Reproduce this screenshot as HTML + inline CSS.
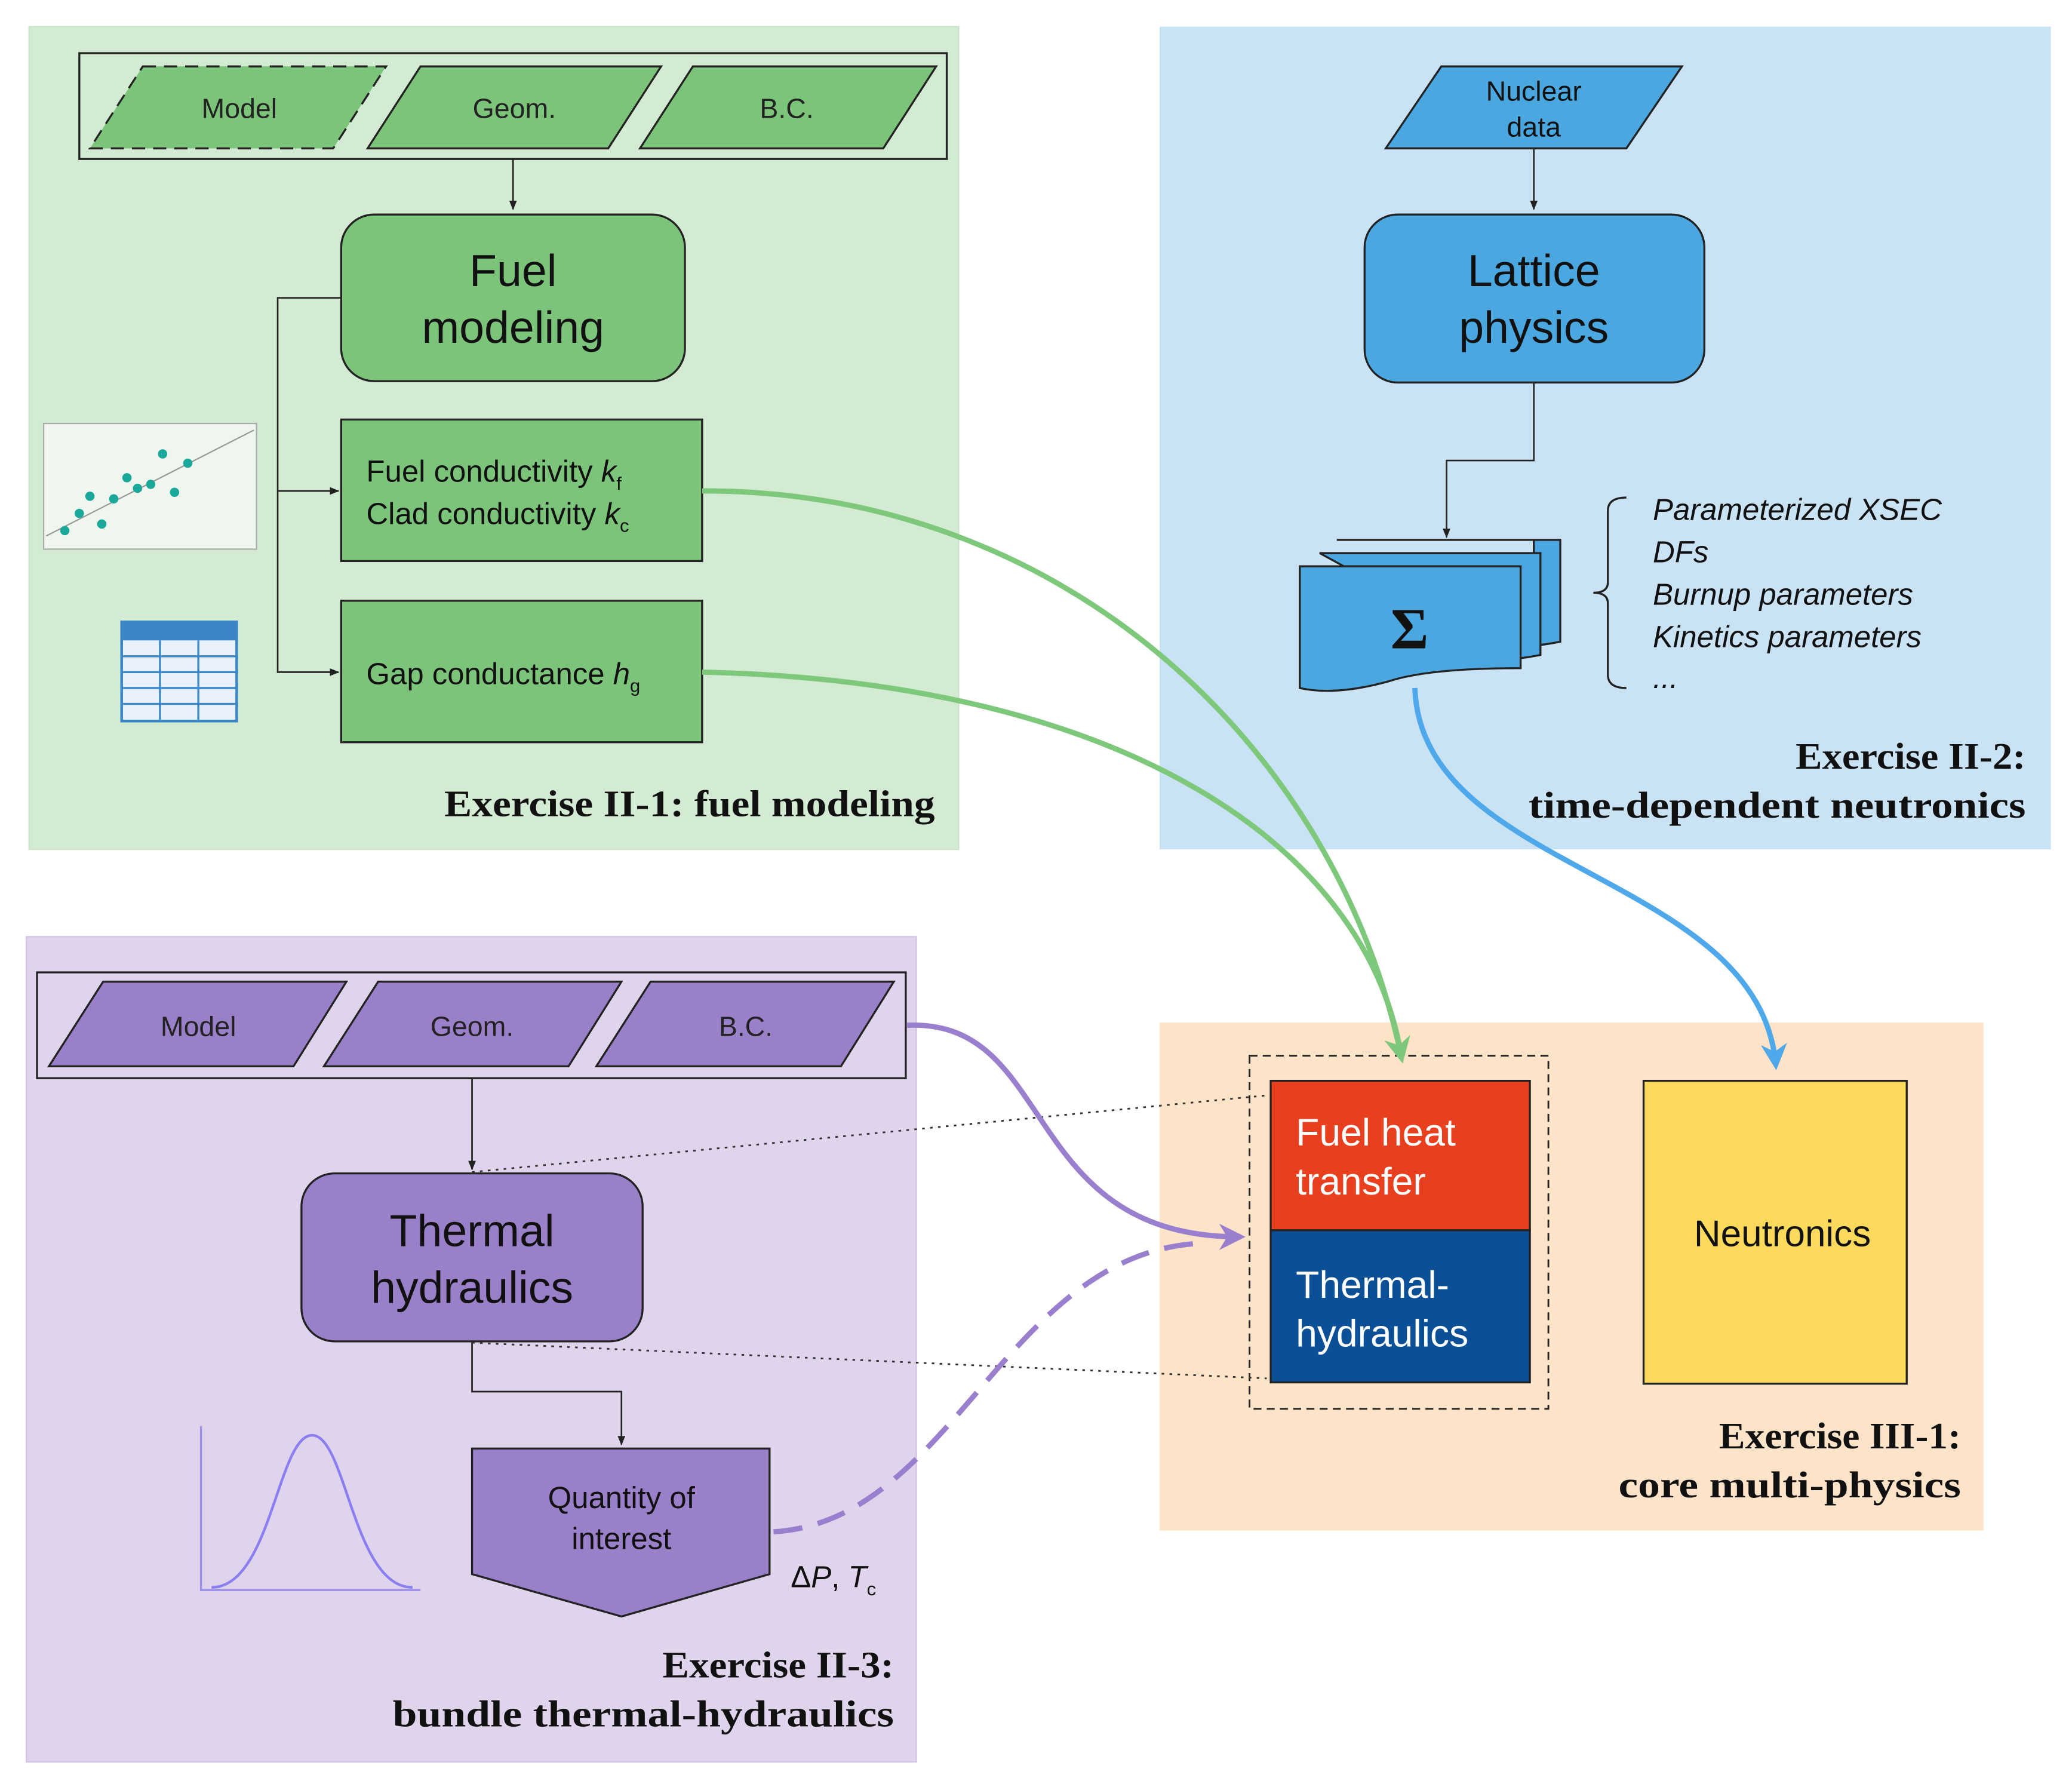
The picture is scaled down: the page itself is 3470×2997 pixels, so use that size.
<!DOCTYPE html>
<html><head><meta charset="utf-8"><style>html,body{margin:0;padding:0;background:#fff}svg{display:block}</style></head>
<body>
<svg width="3470" height="2997" viewBox="0 0 1567 1353" xmlns="http://www.w3.org/2000/svg" font-family="Liberation Sans, sans-serif">
<defs>
<marker id="ab" viewBox="0 0 10 10" refX="9" refY="5" markerWidth="6" markerHeight="6" orient="auto"><path d="M0,1 L10,5 L0,9 z" fill="#222"/></marker>
<marker id="ag" viewBox="0 0 10 10" refX="8" refY="5" markerWidth="5" markerHeight="5" orient="auto" markerUnits="strokeWidth"><path d="M0,0 L10,5 L0,10 L3,5 z" fill="#7dc87a"/></marker>
<marker id="abl" viewBox="0 0 10 10" refX="8" refY="5" markerWidth="5" markerHeight="5" orient="auto" markerUnits="strokeWidth"><path d="M0,0 L10,5 L0,10 L3,5 z" fill="#4ea8ea"/></marker>
<marker id="ap" viewBox="0 0 10 10" refX="8" refY="5" markerWidth="5" markerHeight="5" orient="auto" markerUnits="strokeWidth"><path d="M0,0 L10,5 L0,10 L3,5 z" fill="#9a7fcf"/></marker>
</defs>
<rect x="22" y="20" width="703" height="622" fill="#d3ead3" stroke="#c8e3c8"/>
<rect x="877" y="20" width="674" height="622" fill="#c9e2f4"/>
<rect x="20" y="708" width="673" height="624" fill="#e0d4ec" stroke="#d4c4e4"/>
<rect x="877" y="773" width="623" height="384" fill="#fde3c8"/>

<rect x="60" y="40" width="656" height="80" fill="none" stroke="#222" stroke-width="1.5"/>
<polygon points="108,50 292,50 252,112 68,112" fill="#7dc47b" stroke="#222" stroke-width="1.5" stroke-dasharray="10,6"/>
<polygon points="318,50 500,50 460,112 278,112" fill="#7dc47b" stroke="#222" stroke-width="1.5"/>
<polygon points="524,50 708,50 668,112 484,112" fill="#7dc47b" stroke="#222" stroke-width="1.5"/>
<g font-size="21" fill="#222" text-anchor="middle"><text x="181" y="89">Model</text><text x="389" y="89">Geom.</text><text x="595" y="89">B.C.</text></g>
<line x1="388" y1="120" x2="388" y2="158" stroke="#222" stroke-width="1.2" marker-end="url(#ab)"/>
<rect x="258" y="162" width="260" height="126" rx="25" fill="#7dc47b" stroke="#222" stroke-width="1.5"/>
<g font-size="34" fill="#111" text-anchor="middle"><text x="388" y="216">Fuel</text><text x="388" y="259">modeling</text></g>
<polyline points="258,225 210,225 210,508 256,508" fill="none" stroke="#222" stroke-width="1.2" marker-end="url(#ab)"/>
<line x1="210" y1="371" x2="256" y2="371" stroke="#222" stroke-width="1.2" marker-end="url(#ab)"/>
<rect x="258" y="317" width="273" height="107" fill="#7dc47b" stroke="#222" stroke-width="1.5"/>
<rect x="258" y="454" width="273" height="107" fill="#7dc47b" stroke="#222" stroke-width="1.5"/>
<g font-size="23" fill="#111">
<text x="277" y="364">Fuel conductivity <tspan font-style="italic">k</tspan><tspan font-size="14" dy="6">f</tspan></text>
<text x="277" y="396">Clad conductivity <tspan font-style="italic">k</tspan><tspan font-size="14" dy="6">c</tspan></text>
<text x="277" y="517">Gap conductance <tspan font-style="italic">h</tspan><tspan font-size="14" dy="6">g</tspan></text>
</g>
<rect x="33" y="320" width="161" height="95" fill="#eef6ee" stroke="#aaa" stroke-width="1"/>
<line x1="35" y1="405" x2="192" y2="325" stroke="#999" stroke-width="1"/>
<g fill="#1aa89a"><circle cx="49" cy="401" r="3.5"/><circle cx="60" cy="388" r="3.5"/><circle cx="68" cy="375" r="3.5"/><circle cx="77" cy="396" r="3.5"/><circle cx="86" cy="377" r="3.5"/><circle cx="96" cy="361" r="3.5"/><circle cx="104" cy="369" r="3.5"/><circle cx="114" cy="366" r="3.5"/><circle cx="123" cy="343" r="3.5"/><circle cx="132" cy="372" r="3.5"/><circle cx="142" cy="350" r="3.5"/></g>
<rect x="92" y="470" width="87" height="75" fill="#e8f1fa" stroke="#3a86c6" stroke-width="2"/>
<rect x="92" y="470" width="87" height="14" fill="#3a86c6"/>
<g stroke="#3a86c6" stroke-width="1.5"><line x1="92" y1="496" x2="179" y2="496"/><line x1="92" y1="508" x2="179" y2="508"/><line x1="92" y1="520" x2="179" y2="520"/><line x1="92" y1="532" x2="179" y2="532"/><line x1="121" y1="484" x2="121" y2="545"/><line x1="150" y1="484" x2="150" y2="545"/></g>
<text x="336" y="617" font-family="Liberation Serif, serif" font-weight="bold" font-size="28" fill="#111" textLength="371" lengthAdjust="spacingAndGlyphs">Exercise II-1: fuel modeling</text>

<polygon points="1090,50 1272,50 1230,112 1048,112" fill="#4aa7e0" stroke="#222" stroke-width="1.5"/>
<g font-size="21" fill="#111" text-anchor="middle"><text x="1160" y="76">Nuclear</text><text x="1160" y="103">data</text></g>
<line x1="1160" y1="112" x2="1160" y2="158" stroke="#222" stroke-width="1.2" marker-end="url(#ab)"/>
<rect x="1032" y="162" width="257" height="127" rx="25" fill="#4aa7e0" stroke="#222" stroke-width="1.5"/>
<g font-size="34" fill="#111" text-anchor="middle"><text x="1160" y="216">Lattice</text><text x="1160" y="259">physics</text></g>
<polyline points="1160,289 1160,348 1094,348 1094,406" fill="none" stroke="#222" stroke-width="1.2" marker-end="url(#ab)"/>
<g stroke="#222" stroke-width="1.5" fill="#4aa7e0">
<path d="M1011,408 H1180 V485 Q1170,487 1160,488 V408 Z"/>
<path d="M998,418 H1165 V495 Q1155,497 1145,498 Z"/>
<path d="M983,428 H1150 V505 Q1080,505 1050,515 Q1010,526 983,520 Z"/>
</g>
<text x="1066" y="490" font-family="Liberation Serif, serif" font-weight="bold" font-size="44" text-anchor="middle" fill="#111">Σ</text>
<path d="M1230,376 Q1216,376 1216,386 V440 Q1216,448 1205,448 Q1216,448 1216,456 V510 Q1216,520 1230,520" fill="none" stroke="#222" stroke-width="1.5"/>
<g font-size="23" font-style="italic" fill="#111"><text x="1250" y="393">Parameterized XSEC</text><text x="1250" y="425">DFs</text><text x="1250" y="457">Burnup parameters</text><text x="1250" y="489">Kinetics parameters</text><text x="1250" y="520">...</text></g>
<g font-family="Liberation Serif, serif" font-weight="bold" font-size="28" fill="#111"><text x="1358" y="581" textLength="174" lengthAdjust="spacingAndGlyphs">Exercise II-2:</text><text x="1156" y="618" textLength="376" lengthAdjust="spacingAndGlyphs">time-dependent neutronics</text></g>

<rect x="28" y="735" width="657" height="80" fill="none" stroke="#222" stroke-width="1.5"/>
<polygon points="78,742 262,742 222,806 37,806" fill="#9a7fc9" stroke="#222" stroke-width="1.5"/>
<polygon points="286,742 470,742 430,806 245,806" fill="#9a7fc9" stroke="#222" stroke-width="1.5"/>
<polygon points="492,742 676,742 636,806 451,806" fill="#9a7fc9" stroke="#222" stroke-width="1.5"/>
<g font-size="21" fill="#222" text-anchor="middle"><text x="150" y="783">Model</text><text x="357" y="783">Geom.</text><text x="564" y="783">B.C.</text></g>
<line x1="357" y1="815" x2="357" y2="884" stroke="#222" stroke-width="1.2" marker-end="url(#ab)"/>
<rect x="228" y="887" width="258" height="127" rx="25" fill="#9a7fc9" stroke="#222" stroke-width="1.5"/>
<g font-size="34" fill="#111" text-anchor="middle"><text x="357" y="942">Thermal</text><text x="357" y="985">hydraulics</text></g>
<polyline points="357,1014 357,1052 470,1052 470,1092" fill="none" stroke="#222" stroke-width="1.2" marker-end="url(#ab)"/>
<polygon points="357,1095 582,1095 582,1190 470,1222 357,1190" fill="#9a7fc9" stroke="#222" stroke-width="1.5"/>
<g font-size="23" fill="#111" text-anchor="middle"><text x="470" y="1140">Quantity of</text><text x="470" y="1171">interest</text></g>
<text x="598" y="1200" font-size="23" fill="#111">Δ<tspan font-style="italic">P</tspan>, <tspan font-style="italic">T</tspan><tspan font-size="14" dy="6">c</tspan></text>
<polyline points="152,1078 152,1202 318,1202" fill="none" stroke="#9a8ee8" stroke-width="1.5"/>
<path d="M160,1200 C205,1200 210,1085 236,1085 C262,1085 267,1200 312,1200" fill="none" stroke="#8a7ff0" stroke-width="2"/>
<g font-family="Liberation Serif, serif" font-weight="bold" font-size="28" fill="#111"><text x="501" y="1268" textLength="175" lengthAdjust="spacingAndGlyphs">Exercise II-3:</text><text x="297" y="1305" textLength="379" lengthAdjust="spacingAndGlyphs">bundle thermal-hydraulics</text></g>

<rect x="945" y="798" width="226" height="267" fill="none" stroke="#222" stroke-width="1.3" stroke-dasharray="6,4"/>
<rect x="961" y="817" width="196" height="113" fill="#e8401f" stroke="#222" stroke-width="1.5"/>
<rect x="961" y="930" width="196" height="115" fill="#0b4f96" stroke="#222" stroke-width="1.5"/>
<g font-size="29" fill="#fff"><text x="980" y="866">Fuel heat</text><text x="980" y="903">transfer</text><text x="980" y="981">Thermal-</text><text x="980" y="1018">hydraulics</text></g>
<rect x="1243" y="817" width="199" height="229" fill="#fdd95c" stroke="#222" stroke-width="1.5"/>
<text x="1348" y="942" font-size="28" fill="#111" text-anchor="middle">Neutronics</text>
<g font-family="Liberation Serif, serif" font-weight="bold" font-size="28" fill="#111"><text x="1300" y="1095" textLength="183" lengthAdjust="spacingAndGlyphs">Exercise III-1:</text><text x="1224" y="1132" textLength="259" lengthAdjust="spacingAndGlyphs">core multi-physics</text></g>

<line x1="357" y1="886" x2="958" y2="828" stroke="#333" stroke-width="1.3" stroke-dasharray="2,4"/>
<line x1="357" y1="1015" x2="958" y2="1042" stroke="#333" stroke-width="1.3" stroke-dasharray="2,4"/>

<path d="M531,371 C800,370 1010,560 1060,800" fill="none" stroke="#7dc87a" stroke-width="4" marker-end="url(#ag)"/>
<path d="M531,508 C850,515 1035,640 1060,800" fill="none" stroke="#7dc87a" stroke-width="4"/>
<path d="M1070,520 C1075,660 1330,660 1343,805" fill="none" stroke="#4ea8ea" stroke-width="4" marker-end="url(#abl)"/>
<path d="M686,775 C800,770 770,935 938,935" fill="none" stroke="#9a7fcf" stroke-width="4" marker-end="url(#ap)"/>
<path d="M585,1158 C720,1150 760,950 905,940" fill="none" stroke="#9a7fcf" stroke-width="4" stroke-dasharray="22,12"/>
</svg>
</body></html>
